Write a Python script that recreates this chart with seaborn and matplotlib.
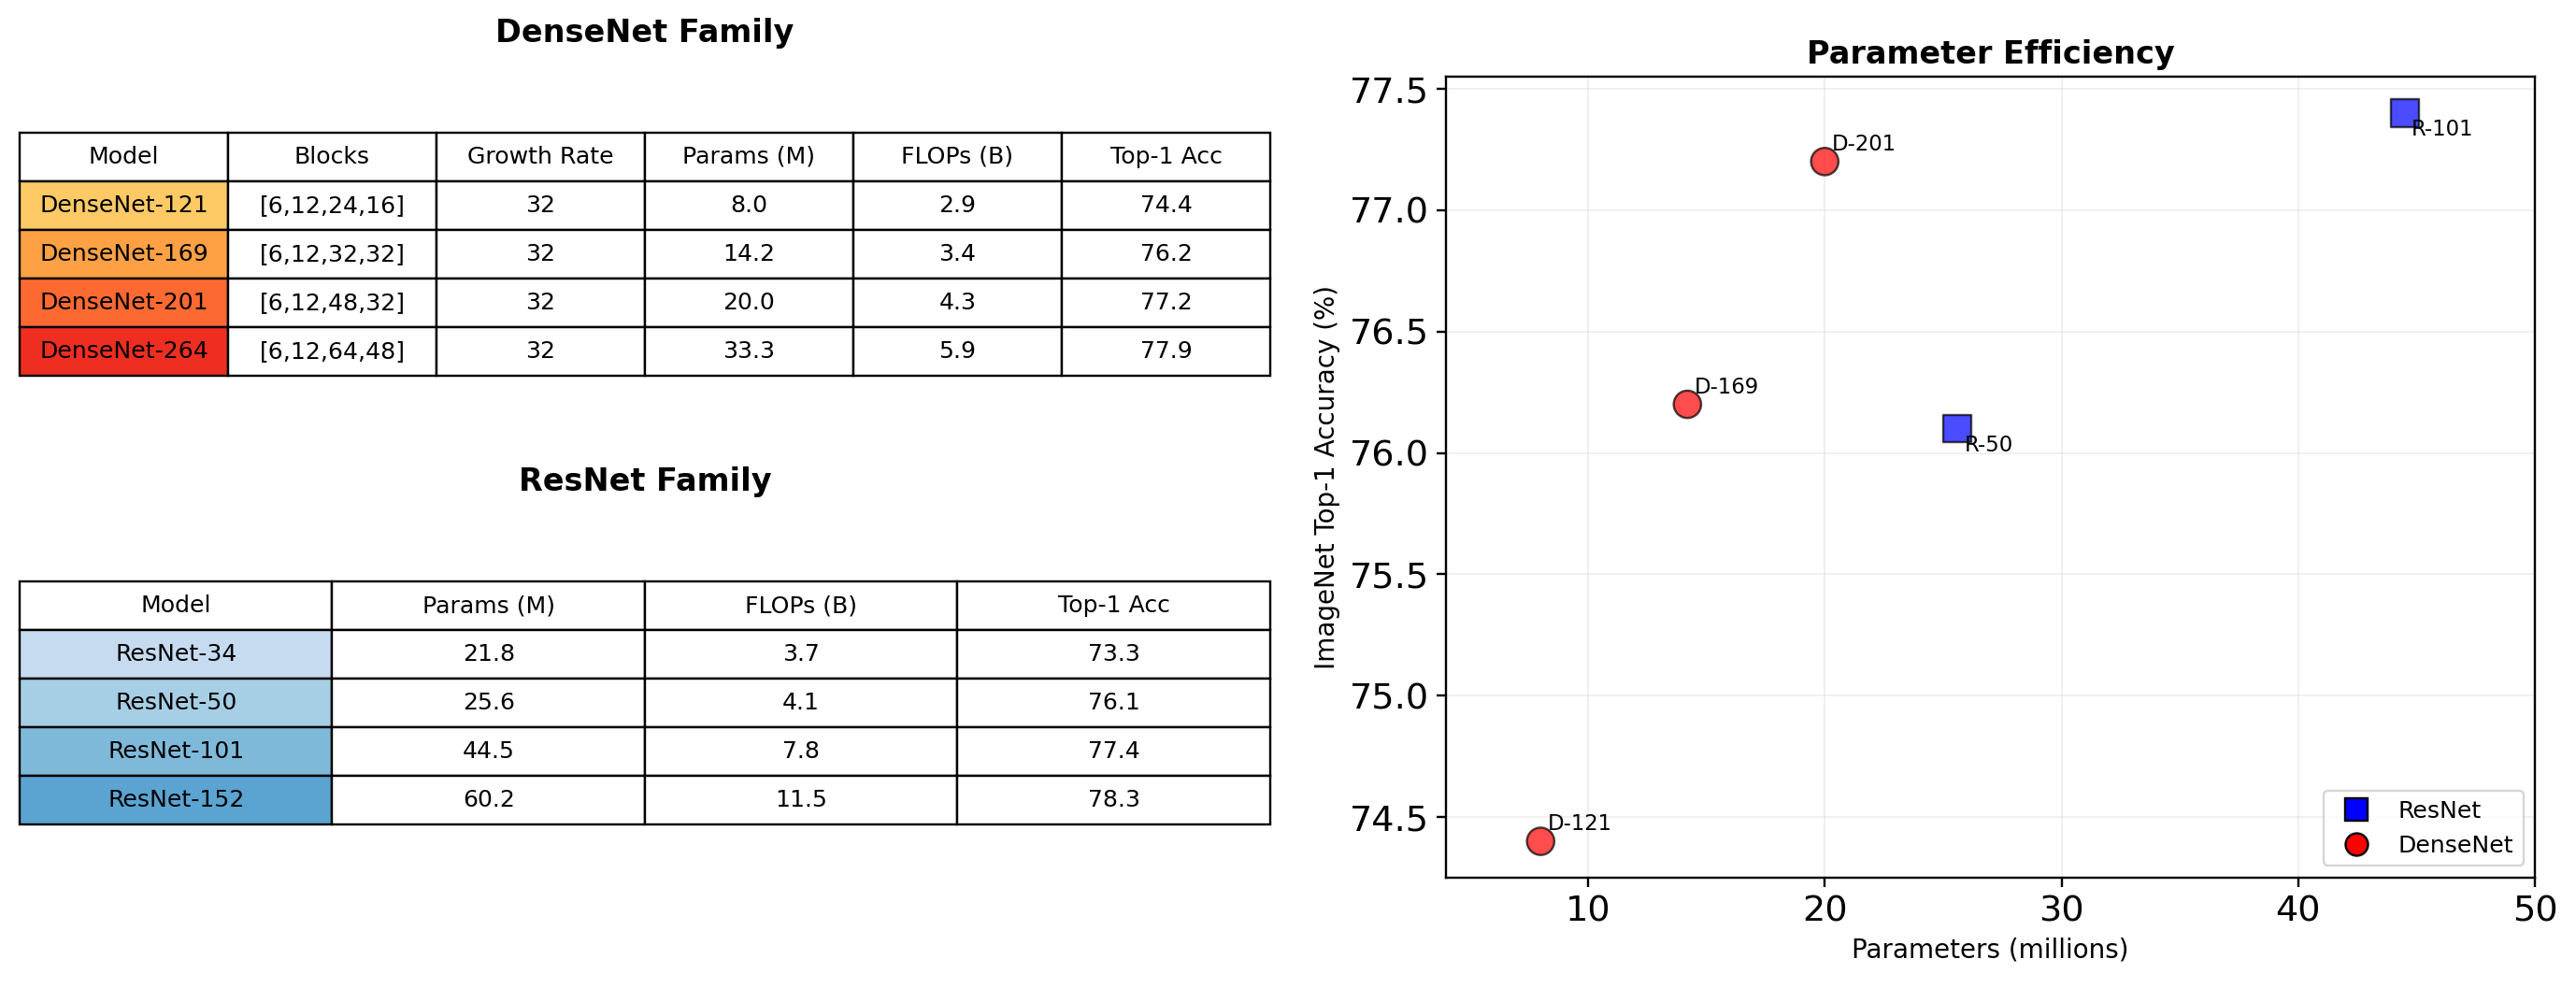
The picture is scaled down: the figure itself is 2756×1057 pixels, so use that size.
import numpy as np
import pandas as pd
import seaborn as sns
import matplotlib.pyplot as plt
from matplotlib.lines import Line2D

# data
dense_models = ['DenseNet-121', 'DenseNet-169', 'DenseNet-201', 'DenseNet-264']
dense_blocks = ['[6,12,24,16]', '[6,12,32,32]', '[6,12,48,32]', '[6,12,64,48]']
dense_growth = [32, 32, 32, 32]
dense_params = [8.0, 14.2, 20.0, 33.3]
dense_flops = [2.9, 3.4, 4.3, 5.9]
dense_acc = [74.4, 76.2, 77.2, 77.9]
dense_short = ['D-121', 'D-169', 'D-201', 'D-264']

res_models = ['ResNet-34', 'ResNet-50', 'ResNet-101', 'ResNet-152']
res_params = [21.8, 25.6, 44.5, 60.2]
res_flops = [3.7, 4.1, 7.8, 11.5]
res_acc = [73.3, 76.1, 77.4, 78.3]
res_short = ['R-34', 'R-50', 'R-101', 'R-152']

dense_cols = ['Model', 'Blocks', 'Growth Rate', 'Params (M)', 'FLOPs (B)', 'Top-1 Acc']
res_cols = ['Model', 'Params (M)', 'FLOPs (B)', 'Top-1 Acc']

sns.set_style('ticks')
plt.rcParams.update({
    'font.family': ['DejaVu Sans'],
    'text.color': 'black',
    'axes.labelcolor': 'black',
    'xtick.color': 'black',
    'ytick.color': 'black',
})

fig = plt.figure(figsize=(16, 6.137), dpi=172.25)
ax_d = fig.add_axes([0.0076, 0.620, 0.4855, 0.246])
ax_r = fig.add_axes([0.0076, 0.1656, 0.4855, 0.246])
ax_s = fig.add_axes([0.5613, 0.1116, 0.4228, 0.8108])


def draw_table(ax, rows, cols, colors, title):
    ax.axis('off')
    tbl = ax.table(cellText=rows, colLabels=cols, cellLoc='center',
                   bbox=[0, 0, 1, 1])
    tbl.auto_set_font_size(False)
    tbl.set_fontsize(10.5)
    for (r, c), cell in tbl.get_celld().items():
        cell.set_edgecolor('black')
        cell.set_linewidth(1.0)
        cell.get_text().set_color('black')
        if r > 0 and c == 0:
            cell.set_facecolor(colors[r - 1])
    ax.text(0.5, 1.41, title, transform=ax.transAxes, ha='center', va='center',
            fontsize=14, fontweight='bold')


# DenseNet table
dense_rows = [[m, b, str(g), f'{p:.1f}', f'{f:.1f}', f'{a:.1f}']
              for m, b, g, p, f, a in zip(dense_models, dense_blocks, dense_growth,
                                          dense_params, dense_flops, dense_acc)]
draw_table(ax_d, dense_rows, dense_cols,
           plt.cm.YlOrRd(np.linspace(0.3, 0.7, 4)), 'DenseNet Family')

# ResNet table
res_rows = [[m, f'{p:.1f}', f'{f:.1f}', f'{a:.1f}']
            for m, p, f, a in zip(res_models, res_params, res_flops, res_acc)]
draw_table(ax_r, res_rows, res_cols,
           plt.cm.Blues(np.linspace(0.25, 0.55, 4)), 'ResNet Family')

# scatter
df = pd.DataFrame({
    'params': res_params + dense_params,
    'acc': res_acc + dense_acc,
    'family': ['ResNet'] * 4 + ['DenseNet'] * 4,
    'label': res_short + dense_short,
})
sns.scatterplot(data=df, x='params', y='acc', hue='family', style='family',
                palette={'ResNet': 'blue', 'DenseNet': 'red'},
                markers={'ResNet': 's', 'DenseNet': 'o'},
                s=150, alpha=0.7, edgecolor='black', linewidth=1,
                legend=False, ax=ax_s, zorder=3)

for _, row in df.iterrows():
    off = (3, -10) if row['family'] == 'ResNet' else (3, 5)
    ax_s.annotate(row['label'], (row['params'], row['acc']), xytext=off,
                  textcoords='offset points', fontsize=9.5)

ax_s.set_xlim(4, 50)
ax_s.set_ylim(74.25, 77.55)
ax_s.grid(True, alpha=0.3)
ax_s.tick_params(labelsize=16, length=4, width=1)
for sp in ax_s.spines.values():
    sp.set_color('black')
    sp.set_linewidth(1.0)
ax_s.set_xlabel('Parameters (millions)', fontsize=11.6)
ax_s.set_ylabel('ImageNet Top-1 Accuracy (%)', fontsize=11.6)
ax_s.set_title('Parameter Efficiency', fontsize=14, fontweight='bold')

handles = [
    Line2D([0], [0], marker='s', color='w', markerfacecolor='blue',
           markeredgecolor='black', markersize=10, label='ResNet'),
    Line2D([0], [0], marker='o', color='w', markerfacecolor='red',
           markeredgecolor='black', markersize=10, label='DenseNet'),
]
ax_s.legend(handles=handles, loc='lower right', fontsize=10.5)

fig.savefig('out.png', dpi=172.25)
